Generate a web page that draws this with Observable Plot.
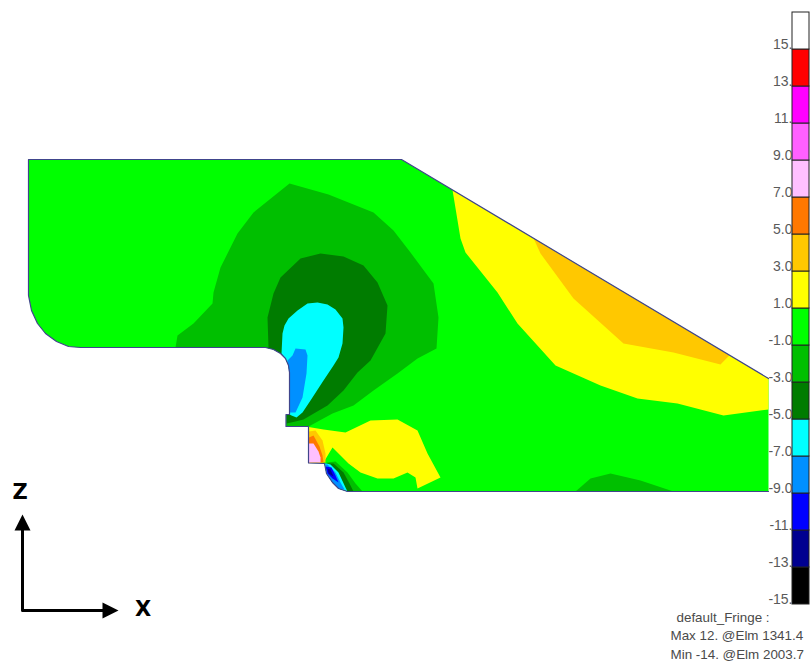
<!DOCTYPE html>
<html>
<head>
<meta charset="utf-8">
<script src="https://cdn.jsdelivr.net/npm/d3@7"></script>
<script src="https://cdn.jsdelivr.net/npm/@observablehq/plot@0.6"></script>
<style>
html,body{margin:0;padding:0;background:#fff}
#chart{position:relative;width:811px;height:662px;overflow:hidden}
#chart svg{position:absolute;left:0;top:0}
</style>
</head>
<body>
<div id="chart"></div>
<script>
// Fringe legend
const fringeEdges = [-15,-13,-11,-9,-7,-5,-3,-1,1,3,5,7,9,11,13,15,17];
const fringeColors = ["#000000","#000090","#0000ff","#0090ff","#00ffff","#007c00","#00bf00","#00ff00","#ffff00","#ffc800","#ff7800","#ffc0ff","#ff60ff","#ff00ff","#ff0000","#ffffff"];
const fringeTicks = [15,13,11,9,7,5,3,1,-1,-3,-5,-7,-9,-11,-13,-15];
const fringeLabels = ["15.","13.","11.","9.0","7.0","5.0","3.0","1.0","-1.0","-3.0","-5.0","-7.0","-9.0","-11.","-13.","-15."];

const green = "#00ff00", midGreen = "#00bf00", darkGreen = "#007c00", cyan = "#00ffff", skyBlue = "#0090ff",
      blue = "#0000ff", navy = "#000090", yellow = "#ffff00", gold = "#ffc800", orange = "#ff7800", pink = "#ffc0ff";

// Model geometry, in picture units
const filletTop = [[289,414],[289,372],[288,365],[285,358],[280,353],[273,349],[265,347]];
const filletBottom = [[324,463],[326,473],[332,482],[338,488],[347,491]];
const outline = [[768,378],[401,159],[28,159],[28,295],[31,310],[37,323],[45,333],[56,341],[68,346],[80,347],
  ...filletTop.slice().reverse(),[285.5,414],[285.5,426],[308,426],[308,462.5],...filletBottom,[768,491]];

const midA = [[175,347],[177,335],[193,323],[212,303],[213,292],[220,267],[237,233],[253,212],[289,183],[328,194],[373,212],[393,230],[410,252],[433,283],[438,317],[436,348],[417,358],[397,373],[373,390],[353,405],[332,413],[310,425],[308,426],[286,426],[286,414],...filletTop];
const midB = [[575,491],[590,478],[610,473],[640,480],[673,491]];
const midC = [[327,462],[335,461],[347,472],[355,483],[362,491],[347,491],...filletBottom.slice().reverse()];
const darkA = [[268,347],[267,317],[273,293],[280,277],[300,258],[320,253],[343,256],[363,265],[377,282],[387,305],[385,333],[370,360],[357,372],[343,390],[327,405],[303,419],[295,421],[286,423],[286,414],...filletTop];
const darkC = [[328,463],[333,463],[343,472],[349,483],[353,491],[347,491],...filletBottom.slice().reverse()];
const cyanA = [[282,333],[284,325],[288,318],[297,310],[307,303],[317,302],[327,304],[335,309],[342,318],[343,327],[342,343],[338,357],[333,365],[323,380],[310,400],[302,412],[296,417],[291,415],[289,414],[289,372],[288,365],[285,358],[281,353]];
const cyanC = [[326,463],[330,464],[338,472],[345,487],[347,491],...filletBottom.slice().reverse()];
const skyA = [[295,348],[305,349],[307,355],[306,373],[302,397],[295,412],[289,412],[289,375],[288,367],[287,360],[292,355]];
const skyC = [[325,464],[327,464],[335,472],[340,482],[344,489],[338,488],[332,482],[326,473]];
const blueC = [[325,466],[331,467],[335,475],[338,482],[332,478],[327,473]];
const navyC = [[327,468],[330,469],[333,476],[328,473]];
const yellowUpper = [[452,189.4],[460,238],[465,252],[497,292],[517,323],[555,365],[600,385],[637,398],[677,403],[723,415],[768,409],[768,378]];
const goldUpper = [[533,237.8],[540,253],[573,298],[623,343],[673,352],[720,364],[729,354.7]];
const yellowLower = [[308,426.5],[323,429],[345,432],[370,420],[397,419],[417,430],[427,453],[440,477],[417,488],[415,477],[407,472],[393,478],[377,478],[360,472],[348,463],[332,447],[323,462],[308,462]];
const goldLower = [[308.5,431],[315,430],[322,440],[325,453],[325,462],[308.5,462]];
const orangeLower = [[308.5,437],[313,435],[319,446],[322,455],[323,462],[308.5,462]];
const pinkLower = [[308.5,443],[313,443],[318,451],[320,457],[320,462],[308.5,462]];

const regions = [
  [outline, green], [midA, midGreen], [midB, midGreen], [midC, midGreen],
  [darkA, darkGreen], [darkC, darkGreen], [cyanA, cyan], [cyanC, cyan],
  [skyA, skyBlue], [skyC, skyBlue], [blueC, blue], [navyC, navy],
  [yellowUpper, yellow], [goldUpper, gold], [yellowLower, yellow],
  [goldLower, gold], [orangeLower, orange], [pinkLower, pink]
];

// Coordinate triad
const axisStem = [[22,528],[22,610],[104,610]];
const arrowZ = [[22,514],[14,530],[30,530]];
const arrowX = [[118,610],[102,602],[102,618]];
const axisLabels = [{x:19.5,y:491.5,t:"Z"},{x:142.5,y:609,t:"X"}];

// Result caption
const caption = [
  {x:676,y:617,t:"default_Fringe :"},
  {x:670,y:635.5,t:"Max 12. @Elm 1341.4"},
  {x:670,y:654,t:"Min -14. @Elm 2003.7"}
];

const px = d => d[0], py = d => d[1];
const font = "Liberation Sans, Arial, sans-serif";

const model = Plot.plot({
  width: 811, height: 662, margin: 0,
  x: {domain: [0, 811], range: [0, 811], axis: null},
  y: {domain: [0, 662], range: [0, 662], axis: null},
  style: {background: "transparent", fontFamily: font},
  marks: [
    ...regions.map(([pts, c]) => Plot.line(pts, {x: px, y: py, fill: c, stroke: "none"})),
    Plot.line(outline, {x: px, y: py, stroke: "#40458c", strokeWidth: 1.2}),
    Plot.line(axisStem, {x: px, y: py, stroke: "#000", strokeWidth: 3}),
    Plot.line(arrowZ, {x: px, y: py, fill: "#000", stroke: "none"}),
    Plot.line(arrowX, {x: px, y: py, fill: "#000", stroke: "none"}),
    Plot.text(axisLabels, {x: "x", y: "y", text: "t", fontSize: 21, fontFamily: "DejaVu Sans", fontWeight: "bold", fill: "#000"}),
    Plot.text(caption, {x: "x", y: "y", text: "t", fontSize: 13.4, textAnchor: "start", fill: "#4a4a4a"})
  ]
});

const bands = fringeColors.map((c, i) => ({lo: fringeEdges[i], hi: fringeEdges[i + 1], c}));
const legend = Plot.plot({
  width: 811, height: 662,
  marginLeft: 792, marginRight: 2, marginTop: 12, marginBottom: 58,
  x: {domain: [0, 1], axis: null},
  y: {domain: [-15, 17]},
  style: {background: "transparent", fontFamily: font},
  marks: [
    Plot.rect(bands, {x1: 0, x2: 1, y1: "lo", y2: "hi", fill: "c", stroke: "#222", strokeWidth: 1}),
    Plot.axisY({
      anchor: "left", ticks: fringeTicks, tickSize: 0, tickPadding: 0, label: null,
      tickFormat: v => fringeLabels[fringeTicks.indexOf(v)],
      fontSize: 14, dy: -5, fill: "#5a5a5a"
    })
  ]
});

const holder = document.getElementById("chart");
holder.append(model, legend);
</script>
</body>
</html>
